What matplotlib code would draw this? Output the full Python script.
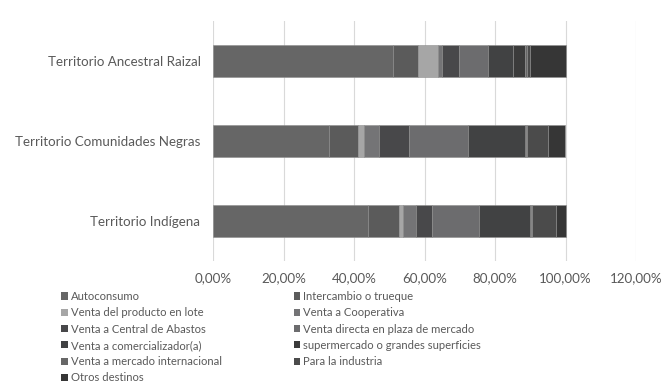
import numpy as np
import matplotlib.pyplot as plt
from matplotlib.ticker import FuncFormatter

plt.rcParams['font.family'] = ['Lato', 'DejaVu Sans']

# Data (shares per territory)
territorios = ['Territorio Ancestral Raizal', 'Territorio Comunidades Negras', 'Territorio Indígena']
destinos = ['Autoconsumo', 'Intercambio o trueque', 'Venta del producto en lote',
            'Venta a Cooperativa', 'Venta a Central de Abastos',
            'Venta directa en plaza de mercado', 'Venta a comercializador(a)',
            'supermercado o grandes superficies', 'Venta a mercado internacional',
            'Para la industria', 'Otros destinos']

raizal = [51.2, 6.9, 5.6, 1.2, 4.9, 8.3, 6.9, 3.6, 0.4, 0.9, 10.1]
negras = [33.0, 8.0, 1.9, 4.2, 8.5, 16.8, 16.1, 0.3, 0.3, 6.0, 4.9]
indigena = [44.1, 8.8, 0.9, 3.7, 4.6, 13.4, 14.3, 0.3, 0.3, 6.8, 2.8]

colores = ['#666666', '#5b5b5b', '#a6a6a6', '#747476', '#48484a', '#6c6c6e',
           '#414243', '#3b3b3b', '#676767', '#4b4b4b', '#363636']

valores = np.array([raizal, negras, indigena]) / 100.0

fig = plt.figure(figsize=(6.62, 3.83), dpi=100)
ax = fig.add_axes([213 / 662, 1 - 261 / 383, (636 - 213) / 662, 240 / 383])

y = np.arange(len(territorios))
izq = np.zeros(len(territorios))
barras = []
for i, nombre in enumerate(destinos):
    b = ax.barh(y, valores[:, i], left=izq, height=0.4, color=colores[i],
                edgecolor='#8e8e8e', linewidth=0.4, label=nombre, zorder=3)
    barras.append(b)
    izq += valores[:, i]

ax.set_xlim(0, 1.2)
ax.set_ylim(2.5, -0.5)
ax.set_yticks(y)
ax.set_yticklabels(territorios)
ax.set_xticks(np.arange(0, 1.21, 0.2))
ax.xaxis.set_major_formatter(FuncFormatter(lambda v, p: f'{v * 100:.2f}%'.replace('.', ',')))
ax.grid(axis='x', color='#d9d9d9', linewidth=0.8, zorder=0)
for s in ax.spines.values():
    s.set_visible(False)
ax.tick_params(length=0, colors='#595959', labelsize=9.6)
ax.tick_params(axis='y', pad=9)
ax.tick_params(axis='x', pad=8)

# Legend in two columns, row-wise order like the original
orden = [0, 2, 4, 6, 8, 10, 1, 3, 5, 7, 9]
leg = fig.legend([barras[k] for k in orden], [destinos[k] for k in orden],
                 ncol=2, loc='upper left', bbox_to_anchor=(61 / 662, 1 - 291 / 383),
                 frameon=False, fontsize=8.1, handlelength=0.6, handleheight=0.6,
                 handletextpad=0.25, labelspacing=0.47, columnspacing=6.4,
                 borderpad=0, borderaxespad=0)
for t in leg.get_texts():
    t.set_color('#595959')
for h in leg.legend_handles:
    h.set_linewidth(0)

fig.savefig('out.png', dpi=100)
